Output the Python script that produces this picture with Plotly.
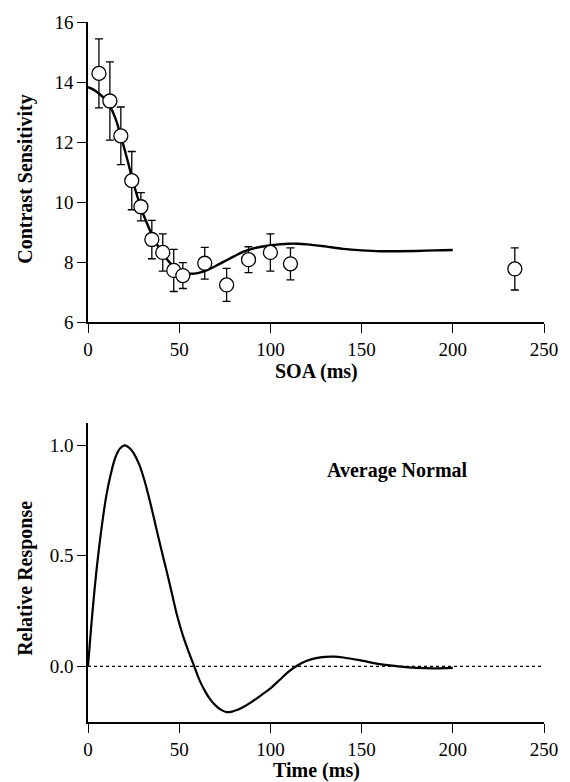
import plotly.graph_objects as go

# top panel: measured contrast sensitivity vs SOA
soa = [6, 12, 18, 24, 29, 35, 41, 47, 52, 64, 76, 88, 100, 111, 234]
sensitivity = [14.29, 13.37, 12.21, 10.72, 9.85, 8.76, 8.33, 7.73, 7.56, 7.97, 7.25, 8.09, 8.33, 7.95, 7.78]
sens_err = [1.15, 1.3, 0.96, 0.97, 0.47, 0.64, 0.62, 0.7, 0.43, 0.53, 0.55, 0.43, 0.62, 0.53, 0.7]

# model fit through the points
fit_x = [0, 3, 6, 9, 12, 15, 18, 21, 24, 27, 30, 33, 36, 40, 45, 50, 55, 60, 65, 70,
         75, 80, 85, 90, 95, 100, 105, 110, 115, 120, 130, 140, 150, 160, 170, 180, 190, 200]
fit_y = [13.83, 13.75, 13.62, 13.45, 13.2, 12.8, 12.2, 11.55, 10.85, 10.2, 9.65, 9.2, 8.8, 8.38,
         7.98, 7.73, 7.63, 7.64, 7.73, 7.88, 8.04, 8.2, 8.35, 8.45, 8.52, 8.57, 8.6, 8.62,
         8.62, 8.6, 8.53, 8.45, 8.4, 8.37, 8.37, 8.38, 8.4, 8.41]

# bottom panel: impulse response
time_ms = [0, 2.5, 5, 7.5, 10, 12.5, 15, 17.5, 20, 22.5, 25, 28, 31, 34, 37, 40, 43, 46, 49, 52,
           55, 58, 61, 64, 67, 70, 73, 76, 79, 82, 86, 90, 95, 100, 105, 110, 115, 120, 125,
           130, 135, 140, 150, 160, 170, 180, 190, 200]
response = [0, 0.25, 0.46, 0.63, 0.77, 0.87, 0.945, 0.985, 1.0, 0.99, 0.965, 0.915, 0.84, 0.745,
            0.64, 0.535, 0.435, 0.33, 0.225, 0.14, 0.07, 0.005, -0.06, -0.11, -0.15, -0.178,
            -0.197, -0.207, -0.205, -0.197, -0.18, -0.16, -0.13, -0.1, -0.062, -0.024, 0.005,
            0.025, 0.037, 0.043, 0.044, 0.04, 0.026, 0.01, 0.0, -0.007, -0.009, -0.007]

baseline_x = [0, 250]
baseline_y = [0, 0]

FONT = 'Liberation Serif, Times New Roman, serif'

fig = go.Figure()

fig.add_trace(go.Scatter(x=fit_x, y=fit_y, mode='lines', line=dict(color='black', width=2.4, shape='spline'),
                         xaxis='x', yaxis='y', showlegend=False))
fig.add_trace(go.Scatter(x=soa, y=sensitivity, mode='markers',
                         marker=dict(symbol='circle', size=14, color='white', line=dict(color='black', width=1.3)),
                         error_y=dict(type='data', array=sens_err, color='black', thickness=1.3, width=4),
                         xaxis='x', yaxis='y', showlegend=False))

fig.add_trace(go.Scatter(x=baseline_x, y=baseline_y, mode='lines', line=dict(color='black', width=1.2, dash='3px,3px'),
                         xaxis='x2', yaxis='y2', showlegend=False))
fig.add_trace(go.Scatter(x=time_ms, y=response, mode='lines', line=dict(color='black', width=2.2, shape='spline'),
                         xaxis='x2', yaxis='y2', showlegend=False))

axis_style = dict(showline=True, linecolor='black', linewidth=1.5, ticks='outside', ticklen=9,
                  tickwidth=1.3, tickcolor='black', showgrid=False, zeroline=False,
                  tickfont=dict(family=FONT, size=19, color='black'))

fig.update_layout(
    width=570, height=782,
    plot_bgcolor='white', paper_bgcolor='white',
    margin=dict(l=88, r=25, t=16, b=60),
    font=dict(family=FONT, color='black'),
    xaxis=dict(domain=[0, 1], range=[0, 250], dtick=50, anchor='y', **axis_style),
    yaxis=dict(domain=[0.5708, 1], range=[6, 16], dtick=2, anchor='x', **axis_style),
    xaxis2=dict(domain=[0, 1], range=[0, 250], dtick=50, anchor='y2', **axis_style),
    yaxis2=dict(domain=[0, 0.4268], range=[-0.252, 1.10], tickvals=[0, 0.5, 1.0],
                ticktext=['0.0', '0.5', '1.0'], anchor='x2', **axis_style),
)

title_font = dict(family=FONT, size=20, color='black')
fig.add_annotation(text='<b>SOA (ms)</b>', xref='paper', yref='paper', x=0.5, y=0.5014,
                   xanchor='center', yanchor='middle', showarrow=False, font=title_font)
fig.add_annotation(text='<b>Time (ms)</b>', xref='paper', yref='paper', x=0.5, y=-0.0694,
                   xanchor='center', yanchor='middle', showarrow=False, font=title_font)
fig.add_annotation(text='<b>Contrast Sensitivity</b>', xref='paper', yref='paper', x=-0.1357, y=0.7748,
                   xanchor='center', yanchor='middle', textangle=-90, showarrow=False, font=title_font)
fig.add_annotation(text='<b>Relative Response</b>', xref='paper', yref='paper', x=-0.1357, y=0.2047,
                   xanchor='center', yanchor='middle', textangle=-90, showarrow=False, font=title_font)
fig.add_annotation(text='<b>Average Normal</b>', xref='x2', yref='y2', x=169.7, y=0.888,
                   xanchor='center', yanchor='middle', showarrow=False, font=title_font)

# drop the page's default body margin so the figure sits at the window corner
fig.write_html("out.html", config={'displayModeBar': False},
               post_script="document.body.style.margin='0px';")
